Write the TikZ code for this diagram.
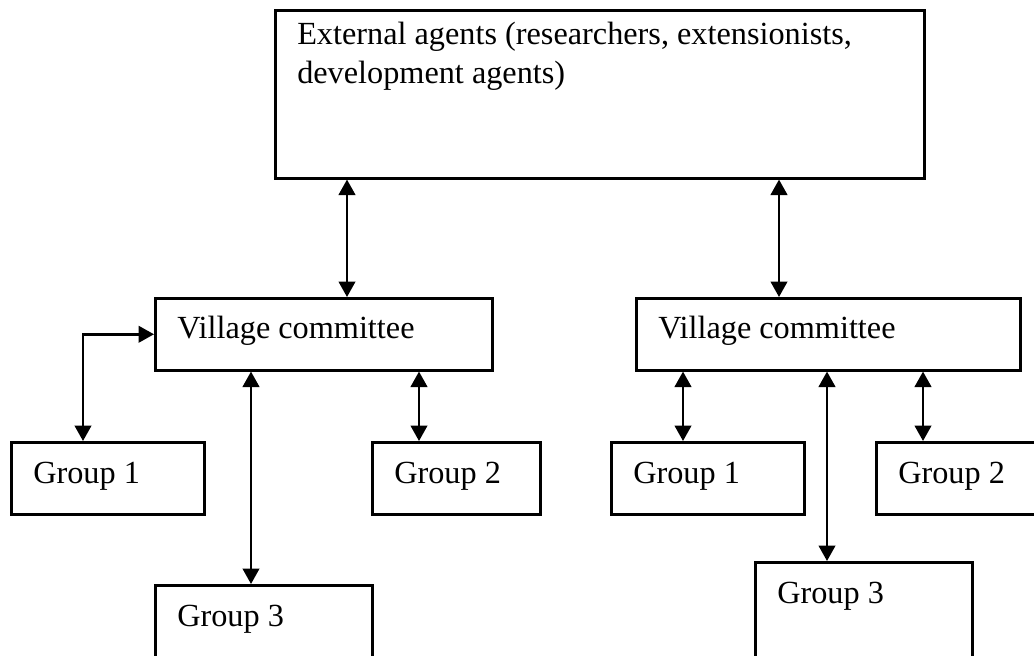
\documentclass[tikz,border=0pt]{standalone}
\usepackage{fontspec}
\setmainfont{Liberation Serif}
\usetikzlibrary{arrows.meta}
\newlength\px
\setlength\px{0.375pt}
\tikzset{
	box/.style={draw, line width=0.95pt, anchor=north west, align=left, inner xsep=22\px, inner ysep=0pt, text height=41\px, text depth=31\px, execute at begin node={\spaceskip=0pt\xspaceskip=0pt\relax}},
	link/.style={{Triangle[length=5.8pt,width=6.2pt]}-{Triangle[length=5.8pt,width=6.2pt]}, line width=0.95pt}
}

\begin{document}
\begin{tikzpicture}[x=0.375pt, y=-0.375pt, font=\fontsize{12.1}{14.6}\selectfont]
			\path[use as bounding box, clip] (0,0) rectangle (1034,655);
			\node[box, text width=605\px, text height=34\px, text depth=134\px] (ext) at (274,9) {External agents (researchers, extensionists,\\development agents)};
			\node[box, text width=293\px, text height=40\px, text depth=32\px] (vc1) at (154,297) {Village committee};
			\node[box, text width=340\px, text height=40\px, text depth=32\px] (vc2) at (635,297) {Village committee};
			\node[box, text width=149\px] (g11) at (10,441) {Group 1};
			\node[box, text width=124\px] (g12) at (371,441) {Group 2};
			\node[box, text width=173\px, text depth=100\px] (g13) at (154,584) {Group 3};
			\node[box, text width=149\px] (g21) at (610,441) {Group 1};
			\node[box, text width=149\px] (g22) at (875,441) {Group 2};
			\node[box, text width=173\px, text depth=120\px] (g23) at (754,561) {Group 3};
			\path[link]
			([xshift=73\px]ext.south west) edge ([xshift=193\px]vc1.north west)
			([xshift=505\px]ext.south west) edge ([xshift=144\px]vc2.north west)
			([xshift=97\px]vc1.south west) edge ([xshift=97\px]g13.north west)
			([xshift=265\px]vc1.south west) edge ([xshift=48\px]g12.north west)
			([xshift=48\px]vc2.south west) edge ([xshift=73\px]g21.north west)
			([xshift=192\px]vc2.south west) edge ([xshift=73\px]g23.north west)
			([xshift=288\px]vc2.south west) edge ([xshift=48\px]g22.north west);
			\draw[link] (vc1.west) -| ([xshift=73\px]g11.north west);
		\end{tikzpicture}
\end{document}
